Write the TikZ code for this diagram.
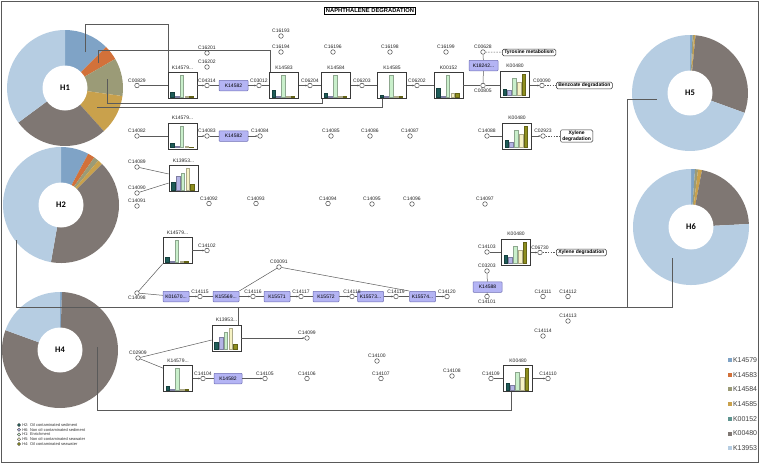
\documentclass[tikz,border=0pt]{standalone}
\usepackage{fontspec}
\setmainfont{Liberation Sans}
\newfontfamily\hfont{Carlito}
\usetikzlibrary{arrows.meta,calc}
\definecolor{bA}{HTML}{1E5C58}
\definecolor{bB}{HTML}{B4B4E6}
\definecolor{bC}{HTML}{C9EFCB}
\definecolor{bD}{HTML}{F6F2C4}
\definecolor{bE}{HTML}{8E8E1E}
\definecolor{pA}{HTML}{7FA3C6}
\definecolor{pB}{HTML}{D2713A}
\definecolor{pC}{HTML}{9B9B77}
\definecolor{pD}{HTML}{C9A14C}
\definecolor{pE}{HTML}{5F9590}
\definecolor{pF}{HTML}{7F7773}
\definecolor{pG}{HTML}{B6CDE2}
\definecolor{enzfill}{HTML}{B4B4F4}
\definecolor{enzdraw}{HTML}{6E6EB4}
\definecolor{lnk}{HTML}{5A5A5A}
\definecolor{cdraw}{HTML}{3A3A3A}
\tikzset{
  link/.style={draw=lnk, line width=0.5pt},
  arr/.style={link, -{Stealth[length=2pt,width=1.8pt]}},
  dsh/.style={draw=lnk, line width=0.5pt, dash pattern=on 1.5pt off 1.2pt},
  lab/.style={font=\fontsize{5}{5}\selectfont, text=black!85, inner sep=0.4pt},
  cpd/.style={circle, draw=cdraw, fill=white, line width=0.45pt, minimum size=4.6pt, inner sep=0pt, label distance=1.8pt},
  bbox/.style={rectangle, draw=gray!45!black, fill=white, line width=0.6pt, minimum width=29pt, minimum height=26pt, inner sep=0pt},
  enz/.style={rectangle, rounded corners=0.8pt, draw=enzdraw, fill=enzfill, line width=0.5pt, minimum height=10.5pt, inner sep=0pt, font=\fontsize{5}{5}\selectfont},
  pathbox/.style={rectangle, rounded corners=1.5pt, draw=black!80, fill=white, line width=0.5pt, inner xsep=2pt, inner ysep=1pt, font=\bfseries\fontsize{5}{5.6}\selectfont, align=center},
  hole/.style={circle, fill=white, minimum size=45pt, inner sep=0pt, font=\hfont\bfseries\fontsize{8.5}{8.5}\selectfont},
  legdot/.style={circle, draw=black!70, line width=0.3pt, minimum size=3.4pt, inner sep=0pt},
  leglab/.style={font=\fontsize{4}{4}\selectfont, text=black!80, inner sep=0.3pt},
  legsq/.style={rectangle, minimum size=4pt, inner sep=0pt},
  rlab/.style={font=\fontsize{7}{7}\selectfont, text=black!75, inner sep=0.3pt}
}
\newcommand\cp[4]{\node[cpd, label={[lab]#4:#1}] (#1) at (#2,#3) {};}
\newcommand\enzb[5]{\node[enz, minimum width=#5pt] (#1) at (#2,#3) {#4};}
\newcommand\barbox[9]{%
  \node[bbox] (#1) at (#2,#3) {};
  \node[lab, anchor=south, yshift=2.5pt] (#1-t) at (#1.north) {#4};
  \foreach \cc/\vv [count=\ii from 0] in {bA/#5,bB/#6,bC/#7,bD/#8,bE/#9}{
    \path[fill=\cc, draw=\cc!70!black, line width=0.25pt] ($(#1.south west)+(2.6+\ii*4.8,-2)$) rectangle ++(3.6,-21.5*\vv);
  }%
}
\newcommand\pie[2]{%
  \foreach \aa/\bb/\cc in {#2}{
    \fill[\cc] (#1) -- ++(\aa:58pt) arc[start angle=\aa, end angle=\bb, radius=58pt] -- cycle;
  }%
}
\begin{document}
\begin{tikzpicture}[x=1pt,y=-1pt]
\useasboundingbox (0,0) rectangle (760,464);
\fill[white] (0,0) rectangle (760,464);
\draw[gray!70!black, line width=0.8pt] (1,1) rectangle (758.5,462.5);

% ---------- pies ----------
\coordinate (cH1) at (65,88);
\coordinate (cH2) at (61,205);
\coordinate (cH4) at (60,350);
\coordinate (cH5) at (690,93);
\coordinate (cH6) at (691,227);
\pie{cH1}{90/45/pA,45/30/pB,30/-8/pC,-8/-48/pD,-48/-143.5/pF,-143.5/-270/pG}
\pie{cH2}{90/62/pA,62/55/pB,55/50/pC,50/45/pD,45/-100/pF,-100/-270/pG}
\pie{cH4}{90/88/pA,88/-200/pF,-200/-270/pG}
\pie{cH5}{90/87.5/pA,87.5/86/pC,86/84.5/pD,84.5/-20/pF,-20/-270/pG}
\pie{cH6}{90/86/pA,86/83/pC,83/79/pD,79/3/pF,3/-270/pG}
\node[hole] (H1) at (cH1) {H1};
\node[hole] (H2) at (cH2) {H2};
\node[hole] (H4) at (cH4) {H4};
\node[hole] (H5) at (cH5) {H5};
\node[hole] (H6) at (cH6) {H6};

% ---------- title ----------
\node[draw=black, line width=0.6pt, fill=white, inner xsep=1.5pt, inner ysep=1.2pt, font=\bfseries\fontsize{5.8}{5.8}\selectfont] (title) at (370,11) {NAPHTHALENE DEGRADATION};

% ---------- bar boxes ----------
\barbox{K14579a}{182.5}{85.5}{K14579...}{0.2}{0.05}{1}{0.05}{0.03}
\barbox{K14583}{284}{85.5}{K14583}{0.29}{0.03}{1}{0.03}{0.03}
\barbox{K14584}{336}{85.5}{K14584}{0.19}{0.05}{1}{0.05}{0.03}
\barbox{K14585}{392}{85.5}{K14585}{0.07}{0.03}{1}{0.02}{0.02}
\barbox{K00152}{448.5}{85.5}{K00152}{0.41}{0.05}{1}{0.15}{0.19}
\barbox{K00480a}{515}{84}{K00480}{0.3}{0.25}{0.79}{0.6}{1}
\barbox{K14579b}{182.5}{136}{K14579...}{0.2}{0.05}{1}{0.05}{0.03}
\barbox{K00480b}{517}{136}{K00480}{0.35}{0.25}{0.8}{0.6}{1}
\barbox{K13953a}{183.5}{178.5}{K13953...}{0.37}{0.62}{0.76}{1}{0.25}
\barbox{K14579c}{177.5}{250.5}{K14579...}{0.2}{0.05}{1}{0.05}{0.03}
\barbox{K00480c}{516}{252}{K00480}{0.37}{0.27}{0.82}{0.63}{1}
\barbox{K13953b}{226.5}{338}{K13953...}{0.33}{0.55}{0.82}{1}{0.22}
\barbox{K14579d}{178}{378.5}{K14579...}{0.18}{0.04}{1}{0.04}{0.03}
\barbox{K00480d}{518}{378.5}{K00480}{0.33}{0.24}{0.81}{0.6}{1}

% ---------- enzyme boxes ----------
\enzb{K14582a}{233.5}{85.5}{K14582}{29}
\enzb{K18242}{483.5}{65.5}{K18242...}{29}
\enzb{K14582b}{233.5}{136}{K14582}{29}
\enzb{K01670}{176}{296.5}{K01670...}{26}
\enzb{K15569}{226}{296.5}{K15569...}{26}
\enzb{K15571}{277}{296.5}{K15571}{26}
\enzb{K15572}{326}{296.5}{K15572}{26}
\enzb{K15573}{370.5}{296.5}{K15573...}{26}
\enzb{K15574}{422.5}{296.5}{K15574...}{26}
\enzb{K14588}{487.5}{287}{K14588}{29}
\enzb{K14582c}{228}{378.5}{K14582}{28}

% ---------- pathway boxes ----------
\node[pathbox, anchor=west] (tyr) at (502,52.5) {Tyrosine metabolism};
\node[pathbox, anchor=west] (benz) at (556,85.5) {Benzoate degradation};
\node[pathbox, anchor=west] (xyl1) at (560,136) {Xylene\\degradation};
\node[pathbox, anchor=west] (xyl2) at (556,252.5) {Xylene degradation};

% ---------- compounds ----------
\cp{C00829}{137}{85.5}{above}
\cp{C04314}{207}{85.5}{above}
\cp{C03012}{259}{85.5}{above}
\cp{C06204}{310}{85.5}{above}
\cp{C06203}{362}{85.5}{above}
\cp{C06202}{417}{85.5}{above}
\cp{C00805}{483}{85.5}{below}
\cp{C00090}{542}{85.5}{above}
\cp{C16201}{207}{53}{above}
\cp{C16202}{207}{67}{above}
\cp{C16193}{281}{36}{above}
\cp{C16194}{281}{52}{above}
\cp{C16196}{333}{52}{above}
\cp{C16198}{390}{52}{above}
\cp{C16199}{446}{52}{above}
\cp{C00628}{483}{52}{above}
\cp{C14082}{137}{136}{above}
\cp{C14083}{207}{136}{above}
\cp{C14084}{260}{136}{above}
\cp{C14085}{331}{136}{above}
\cp{C14086}{370}{136}{above}
\cp{C14087}{410}{136}{above}
\cp{C14088}{487}{136}{above}
\cp{C02923}{543}{136}{above}
\cp{C14089}{137}{167}{above}
\cp{C14090}{137}{193}{above}
\cp{C14091}{137}{206}{above}
\cp{C14092}{209}{203.5}{above}
\cp{C14093}{256}{203.5}{above}
\cp{C14094}{328}{203.5}{above}
\cp{C14095}{372}{204}{above}
\cp{C14096}{412}{204}{above}
\cp{C14097}{485}{204}{above}
\cp{C14102}{207}{250.5}{above}
\cp{C14098}{137}{293}{below}
\cp{C14115}{200}{296.5}{above}
\cp{C14116}{253}{296.5}{above}
\cp{C14117}{301}{296.5}{above}
\cp{C14118}{352}{296.5}{above}
\cp{C14119}{396}{296.5}{above}
\cp{C14120}{447}{296.5}{above}
\cp{C00091}{279}{267}{above}
\cp{C14103}{487}{252}{above}
\cp{C06730}{540}{252.5}{above}
\cp{C03203}{487}{271}{above}
\cp{C14101}{487}{296.5}{below}
\cp{C14111}{543}{296.5}{above}
\cp{C14112}{568}{296.5}{above}
\cp{C14113}{568}{321}{above}
\cp{C14114}{543}{336}{above}
\cp{C14099}{307}{338}{above}
\cp{C02909}{138}{358}{above}
\cp{C14104}{203}{378.5}{above}
\cp{C14105}{265}{378.5}{above}
\cp{C14106}{307}{378.5}{above}
\cp{C14100}{377}{361}{above}
\cp{C14107}{381}{378.5}{above}
\cp{C14108}{452}{376}{above}
\cp{C14109}{491}{378.5}{above}
\cp{C14110}{548}{378.5}{above}

% ---------- connectors: top row ----------
\draw[link] (C00829) -- (C00829 -| K14579a.west);
\draw[arr] (K14579a.east |- C04314) -- (C04314);
\draw[link] (C04314) -- (K14582a);
\draw[arr] (K14582a) -- (C03012);
\draw[link] (C03012) -- (C03012 -| K14583.west);
\draw[arr] (K14583.east |- C06204) -- (C06204);
\draw[link] (C06204) -- (C06204 -| K14584.west);
\draw[arr] (K14584.east |- C06203) -- (C06203);
\draw[link] (C06203) -- (C06203 -| K14585.west);
\draw[arr] (K14585.east |- C06202) -- (C06202);
\draw[link] (C06202) -- (C06202 -| K00152.west);
\draw[link] (K00152.east |- C00805) -- (C00805);
\draw[link] (C00805) -- (C00805 -| K00480a.west);
\draw[arr] (K00480a.east |- C00090) -- (C00090);
\draw[dsh] (C00090) -- (benz);
\draw[link] (C00805) -- (K18242);
\draw[link] (K18242) -- (C00628);
\draw[dsh] (C00628) -- (tyr);
% row 2
\draw[link] (C14082) -- (C14082 -| K14579b.west);
\draw[arr] (K14579b.east |- C14083) -- (C14083);
\draw[link] (C14083) -- (K14582b);
\draw[arr] (K14582b) -- (C14084);
\draw[link] (C14088) -- (C14088 -| K00480b.west);
\draw[arr] (K00480b.east |- C02923) -- (C02923);
\draw[dsh] (C02923) -- (xyl1);
\draw[link] (C14089) -- ([yshift=4.5pt]K13953a.west);
\draw[link] (C14090) -- ([yshift=-4.5pt]K13953a.west);
% row 3
\draw[link] (C14098) -- (K14579c.south west);
\draw[arr] (K14579c.east |- C14102) -- (C14102);
\draw[link] (C14098) -- (K01670);
\draw[arr] (K01670) -- (C14115);
\draw[link] (C14115) -- (K15569);
\draw[arr] (K15569) -- (C14116);
\draw[link] (C14116) -- (K15571);
\draw[arr] (K15571) -- (C14117);
\draw[link] (C14117) -- (K15572);
\draw[arr] (K15572) -- (C14118);
\draw[link] (C14118) -- (K15573);
\draw[arr] (K15573) -- (C14119);
\draw[link] (C14119) -- (K15574);
\draw[arr] (K15574) -- (C14120);
\draw[link] (K15569.north east) -- (C00091);
\draw[link] (C00091) -- (K15574.north west);
\draw[link] (C14103) -- (C14103 -| K00480c.west);
\draw[arr] (K00480c.east |- C06730) -- (C06730);
\draw[dsh] (C06730) -- (xyl2);
\draw[link] (C03203) -- (K14588);
\draw[link] (K14588) -- (C14101);
% lower
\draw[link] (C02909) -- ([yshift=-2pt]K13953b.west);
\draw[arr] (K13953b.east |- C14099) -- (C14099);
\draw[link] (C02909) -- ([yshift=-3pt]K14579d.north west);
\draw[arr] (K14579d.east |- C14104) -- (C14104);
\draw[link] (C14104) -- (K14582c);
\draw[arr] (K14582c) -- (C14105);
\draw[link] (C14109) -- (C14109 -| K00480d.west);
\draw[arr] (K00480d.east |- C14110) -- (C14110);

% ---------- connectors from pies ----------
\coordinate (h1a) at (85,52);
\coordinate (h1b) at (98,63);
\coordinate (h1c) at (107,79);
\coordinate (h1d) at (97,107);
\coordinate (h2a) at (16,240);
\coordinate (h4a) at (97,347);
\coordinate (h5a) at (657,99);
\coordinate (h6a) at (672,258);
\coordinate (jL) at (16,307);
\coordinate (jR) at (672,307);
\coordinate (j5) at (627,307);
\draw[link] (h1a) -- ++(0,-28) -| ([xshift=1pt]K14579a.north west);
\draw[link] (h1b) -- ++(0,-13) -| ([xshift=1pt]K14583.north west);
\draw[link] (h1c) -- ++(0,24) -| ([xshift=1pt]K14584.south west);
\draw[link] (h1d) -| ([xshift=5pt]K14585.south west);
\draw[link] (h2a) -- (jL) -- (jR) -- (h6a);
\draw[link] (j5) |- (h5a);
\draw[link] ([xshift=11.5pt]K13953b.north) -- ++(0,-18);
\draw[link] (h4a) -- ++(0,63) -| ([xshift=-7pt]K00480d.south);

% ---------- legends ----------
\foreach \cc/\tt [count=\ii from 0] in {bA/{H2: Oil contaminated sediment}, bB/{H6: Non oil-contaminated sediment}, bC/{H1: Enrichment}, bD/{H5: Non oil-contaminated seawater}, bE/{H4: Oil contaminated seawater}}{
  \node[legdot, fill=\cc] (ld\ii) at (19,425+4.75*\ii) {};
  \node[leglab, anchor=west] (lt\ii) at (21.8,425+4.75*\ii) {\tt};
}
\foreach \cc/\tt [count=\ii from 0] in {pA/K14579,pB/K14583,pC/K14584,pD/K14585,pE/K00152,pF/K00480,pG/K13953}{
  \node[legsq, fill=\cc] (rs\ii) at (729.5,360+14.7*\ii) {};
  \node[rlab, anchor=west] (rt\ii) at (732.5,360+14.7*\ii) {\tt};
}
\end{tikzpicture}
\end{document}
